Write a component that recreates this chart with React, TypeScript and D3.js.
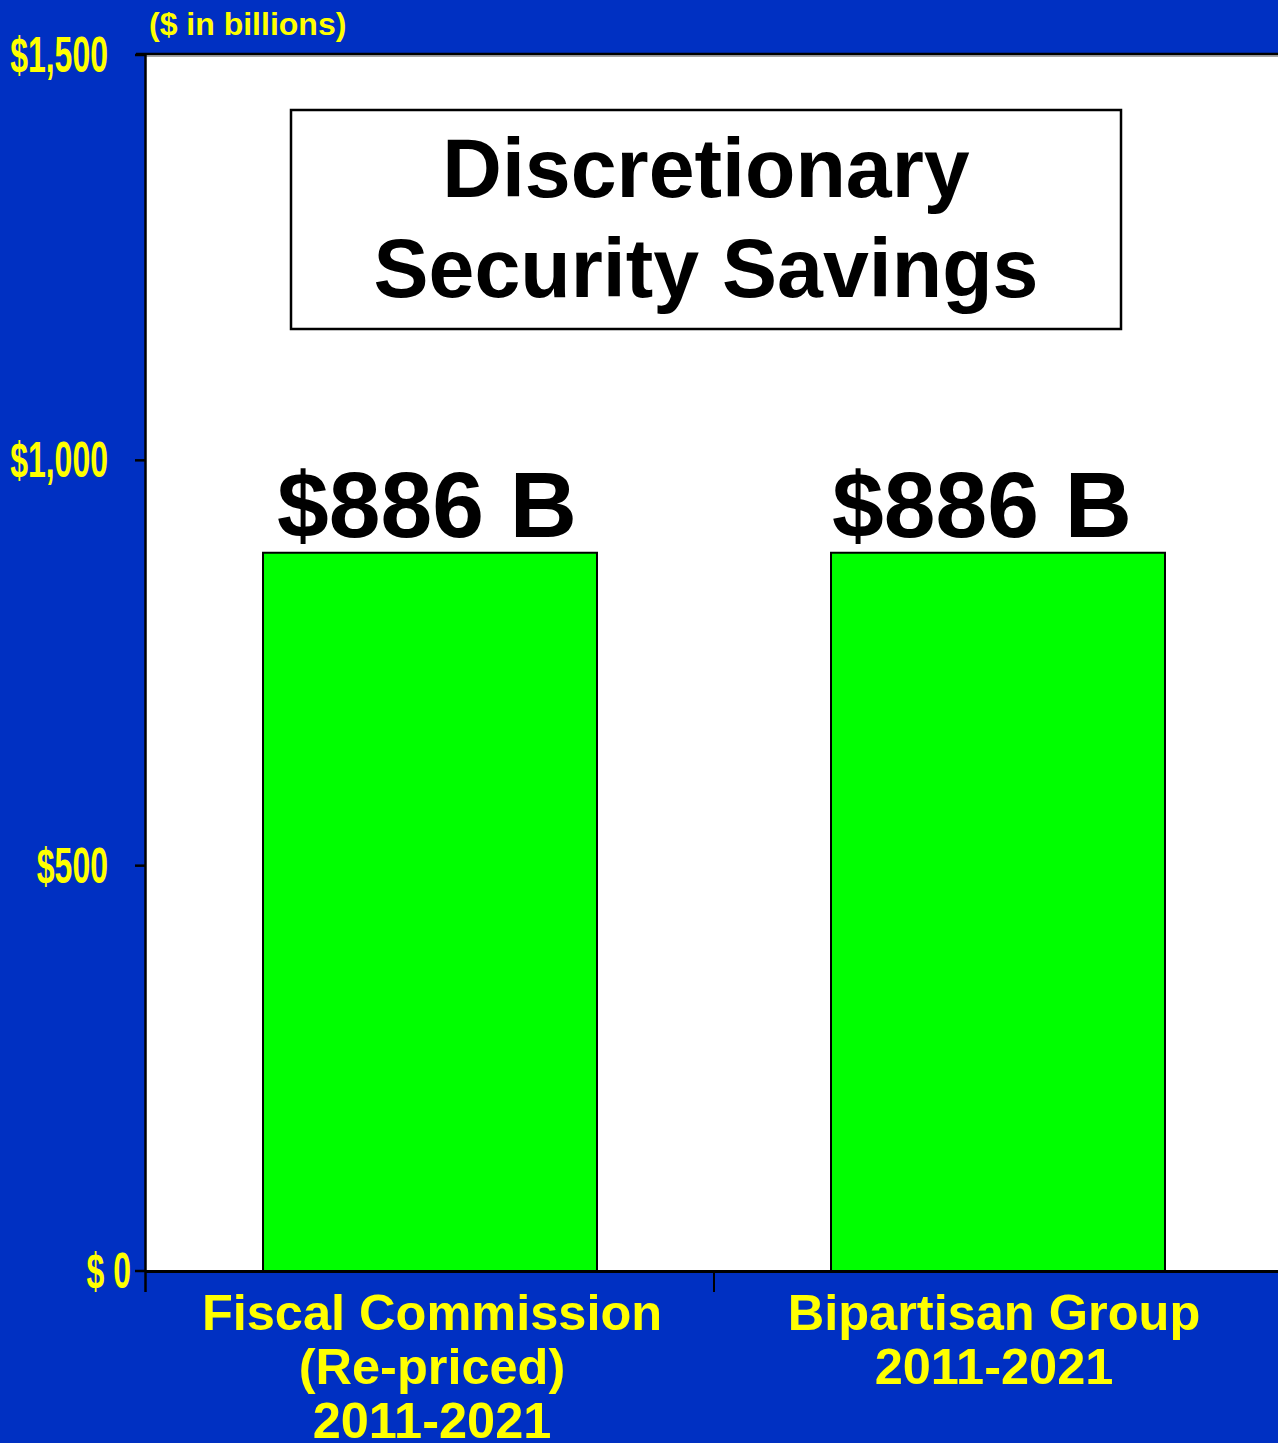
import React, { useEffect, useRef } from "react";
import * as d3 from "d3";

const categories = ["Fiscal Commission|(Re-priced)|2011-2021", "Bipartisan Group|2011-2021"];
const savings = [886, 886];
const valueLabels = ["$886 B", "$886 B"];
const yTicks = [0, 500, 1000, 1500];
const yTickLabels = ["$ 0", "$500", "$1,000", "$1,500"];
const titleLines = ["Discretionary", "Security Savings"];
const unitNote = "($ in billions)";

const W = 1278;
const H = 1443;
const BLUE = "#0030C2";
const YELLOW = "#FFFF00";

const App = () => {
  const ref = useRef<SVGSVGElement>(null);

  useEffect(() => {
    const svg = d3.select(ref.current);
    svg.selectAll("*").remove();

    const left = 146, right = 1282, top = 55, bottom = 1271;

    const x = d3.scaleBand<string>()
      .domain(categories)
      .range([left, right])
      .paddingInner(0.412)
      .paddingOuter(0.206);

    const y = d3.scaleLinear().domain([0, 1500]).range([bottom, top]);

    svg.append("rect").attr("width", W).attr("height", H).attr("fill", BLUE);

    // plot area
    svg.append("rect")
      .attr("x", left).attr("y", top)
      .attr("width", right - left).attr("height", bottom - top)
      .attr("fill", "#fff");
    svg.append("line")
      .attr("x1", left - 10).attr("x2", right)
      .attr("y1", top - 1).attr("y2", top - 1)
      .attr("stroke", "#000").attr("stroke-width", 2.5);
    svg.append("line")
      .attr("x1", left).attr("x2", right)
      .attr("y1", top + 1).attr("y2", top + 1)
      .attr("stroke", "#888").attr("stroke-width", 1.5);

    // bars
    svg.selectAll(".bar")
      .data(savings)
      .enter().append("rect")
      .attr("class", "bar")
      .attr("x", (d, i) => x(categories[i])!)
      .attr("y", d => y(d))
      .attr("width", x.bandwidth())
      .attr("height", d => y(0) - y(d))
      .attr("fill", "#00FF00")
      .attr("stroke", "#000")
      .attr("stroke-width", 2);

    // labels sit slightly left of centre, more so on the second bar
    const labelShift = [-3, -16];
    svg.selectAll(".vlabel")
      .data(savings)
      .enter().append("text")
      .attr("class", "vlabel")
      .attr("x", (d, i) => x(categories[i])! + x.bandwidth() / 2 + labelShift[i])
      .attr("y", d => y(d) - 16)
      .attr("text-anchor", "middle")
      .attr("font-family", "Liberation Sans, Arial, sans-serif")
      .attr("font-weight", "bold")
      .attr("font-size", 93)
      .attr("fill", "#000")
      .text((d, i) => valueLabels[i]);

    // y axis
    svg.append("line")
      .attr("x1", left - 0.5).attr("x2", left - 0.5)
      .attr("y1", top - 2).attr("y2", bottom + 21)
      .attr("stroke", "#000").attr("stroke-width", 2.5);
    svg.selectAll(".ytick")
      .data(yTicks)
      .enter().append("line")
      .attr("x1", left - 11).attr("x2", left)
      .attr("y1", d => y(d)).attr("y2", d => y(d))
      .attr("stroke", "#000").attr("stroke-width", 2.5);
    svg.selectAll(".ylab")
      .data(yTicks)
      .enter().append("text")
      .attr("transform", d => `translate(${d === 0 ? 131 : 108},${y(d) + 17}) scale(0.64,1)`)
      .attr("text-anchor", "end")
      .attr("font-family", "Liberation Sans Narrow, Arial Narrow, Liberation Sans, sans-serif")
      .attr("font-weight", "bold")
      .attr("font-size", 50)
      .attr("fill", YELLOW)
      .text((d, i) => yTickLabels[i]);

    // x axis
    svg.append("line")
      .attr("x1", left - 1).attr("x2", right)
      .attr("y1", bottom + 0.5).attr("y2", bottom + 0.5)
      .attr("stroke", "#000").attr("stroke-width", 3);
    svg.append("line")
      .attr("x1", (left + right) / 2).attr("x2", (left + right) / 2)
      .attr("y1", bottom).attr("y2", bottom + 21)
      .attr("stroke", "#000").attr("stroke-width", 2);

    const catShift = [2, -4];
    const xl = svg.selectAll(".xlab")
      .data(categories)
      .enter().append("text")
      .attr("text-anchor", "middle")
      .attr("font-family", "Liberation Sans, Arial, sans-serif")
      .attr("font-weight", "bold")
      .attr("font-size", 50.5)
      .attr("fill", YELLOW);
    xl.selectAll("tspan")
      .data((d, ci) => d.split("|").map(t => ({ t, c: d, ci })))
      .enter().append("tspan")
      .attr("x", d => x(d.c)! + x.bandwidth() / 2 + catShift[d.ci])
      .attr("y", (d, i) => bottom + 59 + i * 54)
      .text(d => d.t);

    // title box
    svg.append("rect")
      .attr("x", 291).attr("y", 110)
      .attr("width", 830).attr("height", 219)
      .attr("fill", "#fff").attr("stroke", "#000").attr("stroke-width", 2.5);
    svg.selectAll(".title")
      .data(titleLines)
      .enter().append("text")
      .attr("x", 706)
      .attr("y", (d, i) => 197 + i * 100)
      .attr("text-anchor", "middle")
      .attr("font-family", "Liberation Sans, Arial, sans-serif")
      .attr("font-weight", "bold")
      .attr("font-size", 82.5)
      .attr("fill", "#000")
      .text(d => d);

    svg.append("text")
      .attr("x", 149).attr("y", 35)
      .attr("font-family", "Liberation Sans, Arial, sans-serif")
      .attr("font-weight", "bold")
      .attr("font-size", 32)
      .attr("fill", YELLOW)
      .text(unitNote);
  }, []);

  return (
    <svg ref={ref} width={W} height={H}
      style={{ position: "absolute", left: 0, top: 0, display: "block" }} />
  );
};

export default App;
